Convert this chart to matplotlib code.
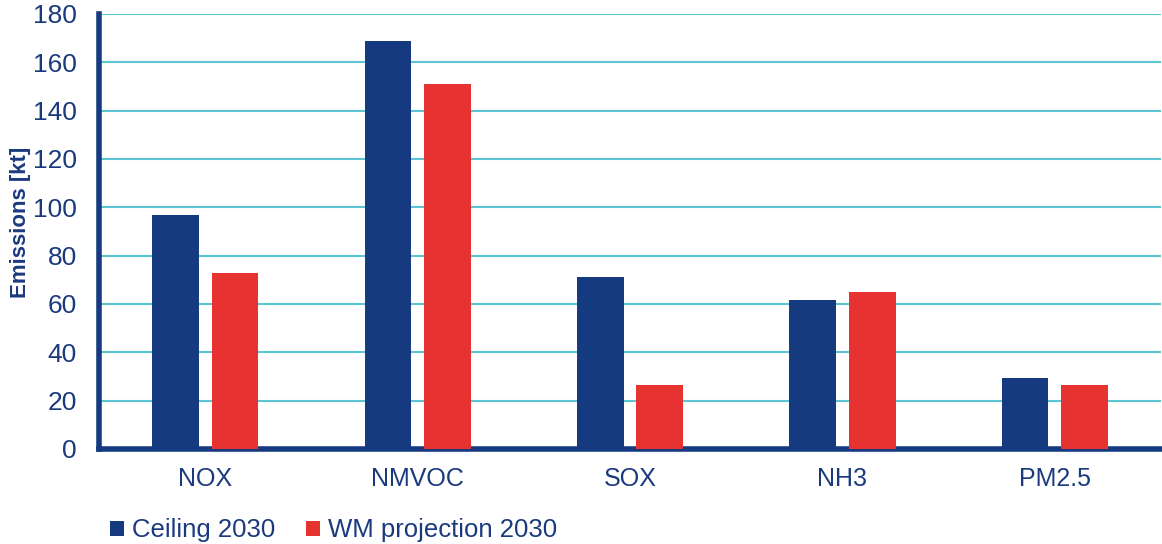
import matplotlib
matplotlib.use("Agg")
import matplotlib.pyplot as plt
import numpy as np

categories = ["NOX", "NMVOC", "SOX", "NH3", "PM2.5"]
ceiling_2030 = [97, 169, 71, 61.7, 29.5]
wm_projection_2030 = [73, 151, 26.5, 65, 26.5]
yticks = [0, 20, 40, 60, 80, 100, 120, 140, 160, 180]

plt.rcParams['font.family'] = ['Liberation Sans', 'DejaVu Sans']
text_col = "#1b3a7e"
blue = "#153a80"
red = "#e63331"
grid_col = "#5cc5d3"

fig = plt.figure(figsize=(11.62, 5.44), dpi=100)
ax = fig.add_axes([99/1162, 1-449/544, 1062/1162, 435/544])

x = np.arange(len(categories))
w = 0.22
ax.bar(x - 0.14, ceiling_2030, width=w, color=blue, label="Ceiling 2030", zorder=3)
ax.bar(x + 0.14, wm_projection_2030, width=w, color=red, label="WM projection 2030", zorder=3)

ax.set_xlim(-0.5, len(categories) - 0.5)
ax.set_ylim(0, 180)
ax.set_yticks(yticks)
ax.set_xticks(x)
ax.set_xticklabels(categories)
ax.yaxis.grid(True, color=grid_col, linewidth=1.5, zorder=0)
ax.set_axisbelow(True)

for s in ["top", "right"]:
    ax.spines[s].set_visible(False)
for s in ["left", "bottom"]:
    ax.spines[s].set_color(blue)
    ax.spines[s].set_linewidth(4)

ax.tick_params(axis='y', colors=text_col, labelsize=19, length=0, pad=16)
ax.tick_params(axis='x', colors=text_col, labelsize=18, length=0, pad=13)
ax.set_ylabel("Emissions [kt]", fontsize=16, fontweight='bold', color=text_col)
ax.yaxis.set_label_coords(-0.064, 0.522)

fig.legend(loc="lower left", bbox_to_anchor=(100/1162, -0.016), ncol=2, frameon=False,
           fontsize=18.5, labelcolor=text_col, handlelength=0.55, handleheight=0.55,
           handletextpad=0.3, columnspacing=1.2, borderaxespad=0)

fig.savefig("out.png", dpi=100)
